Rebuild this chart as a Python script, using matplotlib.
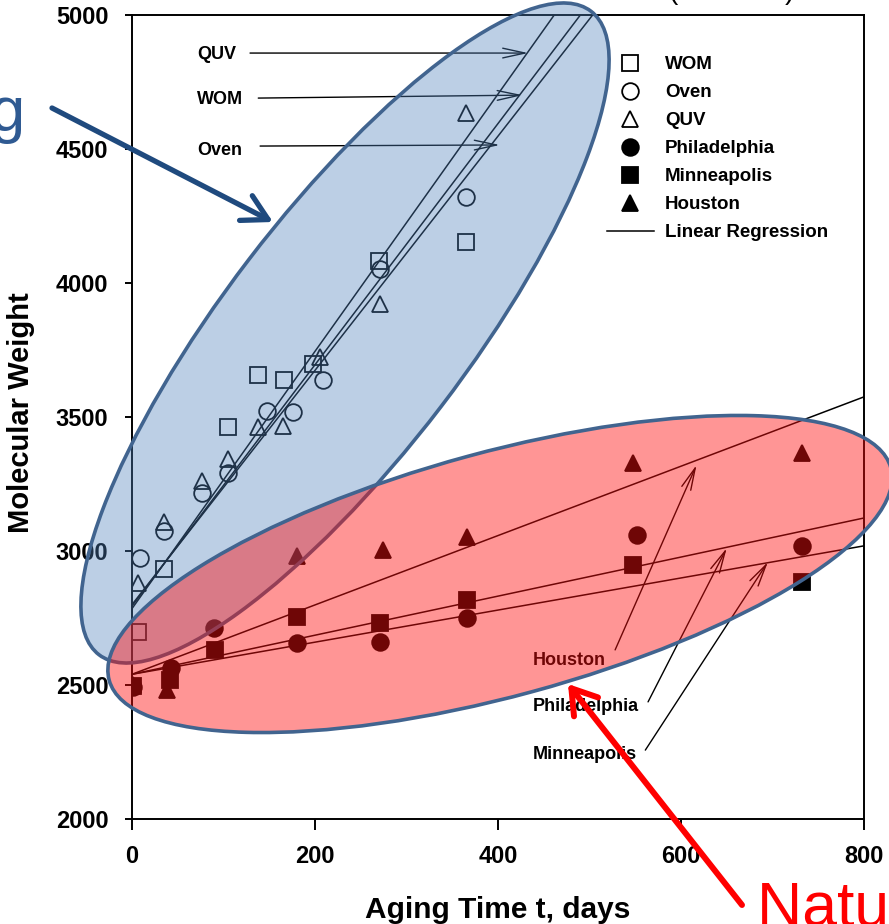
import matplotlib
matplotlib.use('Agg')
import matplotlib.pyplot as plt
from matplotlib.patches import Ellipse
from matplotlib.lines import Line2D
import numpy as np

plt.rcParams['font.family'] = ['Liberation Sans', 'DejaVu Sans']

# accelerated aging (open symbols)
wom_t = [7, 35, 105, 138, 166, 198, 270, 365]
wom_mw = [2698, 2932, 3464, 3657, 3638, 3697, 4082, 4153]
oven_t = [9, 35, 77, 105, 148, 176, 209, 271, 365]
oven_mw = [2974, 3075, 3216, 3291, 3522, 3519, 3638, 4052, 4321]
quv_t = [7, 35, 77, 105, 138, 165, 205, 271, 365]
quv_mw = [2881, 3108, 3260, 3343, 3464, 3468, 3724, 3922, 4634]

# natural weathering (filled symbols)
phil_t = [1, 43, 90, 180, 271, 366, 552, 732]
phil_mw = [2493, 2563, 2713, 2657, 2662, 2750, 3060, 3019]
minn_t = [1, 42, 91, 180, 271, 366, 548, 732]
minn_mw = [2495, 2519, 2631, 2754, 2731, 2817, 2948, 2884]
hous_t = [1, 38, 180, 274, 366, 548, 732]
hous_mw = [2500, 2480, 2981, 3004, 3052, 3328, 3366]

# linear regression lines (intercept, slope per day)
fit_names = ['QUV', 'WOM', 'Oven', 'Houston', 'Philadelphia', 'Minneapolis']
fit_b0 = [2785, 2795, 2800, 2540, 2540, 2540]
fit_b1 = [4.80, 4.50, 4.37, 1.294, 0.729, 0.599]

fig = plt.figure(figsize=(8.89, 9.24), dpi=100)
ax = fig.add_axes([132/889, 1 - 819/924, 732/889, 804/924])

ms = 12
mk = dict(ls='none', mec='black', mew=1.3, ms=ms)
ax.plot(wom_t, wom_mw, marker='s', mfc='none', **mk)
ax.plot(oven_t, oven_mw, marker='o', mfc='none', **mk)
ax.plot(quv_t, quv_mw, marker='^', mfc='none', **mk)
ax.plot(phil_t, phil_mw, marker='o', mfc='black', **mk)
ax.plot(minn_t, minn_mw, marker='s', mfc='black', **mk)
ax.plot(hous_t, hous_mw, marker='^', mfc='black', **mk)

tt = np.array([0, 800])
for b0, b1 in zip(fit_b0, fit_b1):
    ax.plot(tt, b0 + b1 * tt, color='black', lw=1.1)

ax.set_xlim(0, 800)
ax.set_ylim(2000, 5000)
ax.set_xticks([0, 200, 400, 600, 800])
ax.set_yticks([2000, 2500, 3000, 3500, 4000, 4500, 5000])
ax.tick_params(axis='y', direction='out', length=5, width=1.4, pad=12, labelsize=17)
ax.tick_params(axis='x', direction='out', length=8, width=1.4, pad=11, labelsize=17)
for lab in ax.get_xticklabels() + ax.get_yticklabels():
    lab.set_fontweight('bold')
for sp in ax.spines.values():
    sp.set_linewidth(1.4)

ax.set_xlabel('Aging Time t, days', fontsize=21.5, fontweight='bold')
ax.xaxis.set_label_coords(0.5, -0.096)
ax.set_ylabel('Molecular Weight', fontsize=21, fontweight='bold')
ax.yaxis.set_label_coords(-0.132, 0.506)

# legend
handles = [
    Line2D([], [], marker='s', mfc='none', **mk),
    Line2D([], [], marker='o', mfc='none', **mk),
    Line2D([], [], marker='^', mfc='none', **mk),
    Line2D([], [], marker='o', mfc='black', **mk),
    Line2D([], [], marker='s', mfc='black', **mk),
    Line2D([], [], marker='^', mfc='black', **mk),
    Line2D([], [], color='black', lw=1.1),
]
labels = ['WOM', 'Oven', 'QUV', 'Philadelphia', 'Minneapolis', 'Houston', 'Linear Regression']
leg = ax.legend(handles, labels, loc='upper left', bbox_to_anchor=((607 - 132) / 732, (819 - 56) / 804),
                frameon=False, borderpad=0, borderaxespad=0, handlelength=2.5, handletextpad=0.6,
                labelspacing=0.58, prop=dict(size=13.5, weight='bold'))

# labels with arrows pointing at the regression lines
arr = dict(arrowstyle='->,head_length=1.6,head_width=0.35', lw=1.0, color='black',
           shrinkA=0, shrinkB=0)
txt = dict(fontsize=13, fontweight='bold', va='center', ha='left')
ax.text(71, 4851, 'QUV', **txt)
ax.annotate('', xy=(433, 4858), xytext=(129, 4858), arrowprops=arr)
ax.text(71, 4683, 'WOM', **txt)
ax.annotate('', xy=(427, 4701), xytext=(138, 4690), arrowprops=arr)
ax.text(71, 4496, 'Oven', **txt)
ax.annotate('', xy=(402, 4515), xytext=(140, 4511), arrowprops=arr)

ax.text(438, 2593, 'Houston', **txt)
ax.annotate('', xy=(617, 3321), xytext=(528, 2631), arrowprops=arr)
ax.text(438, 2418, 'Philadelphia', **txt)
ax.annotate('', xy=(650, 3011), xytext=(564, 2437), arrowprops=arr)
ax.text(438, 2239, 'Minneapolis', **txt)
ax.annotate('', xy=(695, 2959), xytext=(561, 2257), arrowprops=arr)

# slide overlay (pixel coordinates)
ov = fig.add_axes([0, 0, 1, 1], zorder=5)
ov.set_xlim(0, 889)
ov.set_ylim(924, 0)
ov.axis('off')
edge = '#41648F'
ov.add_patch(Ellipse((345, 333), 810, 242, angle=-52.6,
                     facecolor=(0.31, 0.51, 0.74, 0.38), edgecolor=edge, lw=2.6))
ov.add_patch(Ellipse((500, 574), 810, 244, angle=-15.2,
                     facecolor=(1.0, 0.06, 0.06, 0.44), edgecolor=edge, lw=2.6))

ov.annotate('', xy=(273, 222), xytext=(52, 108),
            arrowprops=dict(arrowstyle='->,head_length=0.9,head_width=0.5', lw=3.8,
                            color='#1F4A7E', shrinkA=0, shrinkB=0, mutation_scale=20))
ov.annotate('', xy=(568, 684), xytext=(742, 905),
            arrowprops=dict(arrowstyle='->,head_length=0.85,head_width=0.55', lw=4.3,
                            color='red', shrinkA=0, shrinkB=0, mutation_scale=20))
ov.text(25, 131, 'Accelerated Aging', ha='right', va='baseline', fontsize=45, color='#2F5A92')
ov.text(757, 926, 'Natural Weathering', ha='left', va='baseline', fontsize=45, color='red')
ov.text(668, -1, '(', ha='left', va='baseline', fontsize=20)
ov.text(785, -1, ')', ha='left', va='baseline', fontsize=20)

fig.savefig('out.png', dpi=100)
